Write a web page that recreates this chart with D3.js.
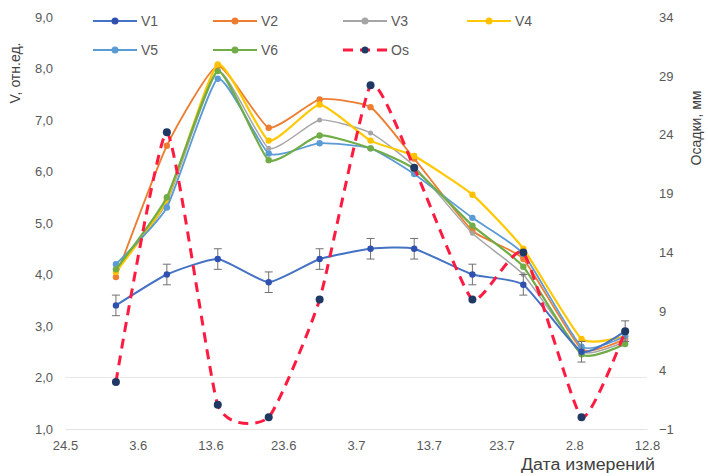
<!DOCTYPE html>
<html>
<head>
<meta charset="utf-8">
<script src="https://cdn.jsdelivr.net/npm/d3@7/dist/d3.min.js"></script>
<style>
  html, body { margin: 0; padding: 0; background: #ffffff; }
  svg { display: block; font-family: "Liberation Sans", Arial, sans-serif; }
</style>
</head>
<body>
<svg id="chart" width="708" height="476"></svg>
<script>
// Measurement dates
const dates = ["2021-05-31", "2021-06-07", "2021-06-14", "2021-06-21", "2021-06-28",
               "2021-07-05", "2021-07-11", "2021-07-19", "2021-07-26", "2021-08-03", "2021-08-09"];

// Relative values of the six series (left axis)
const V1 = [3.4, 4.0, 4.3, 3.85, 4.3, 4.5, 4.5, 4.0, 3.8, 2.5, 2.9];
const V1err = [0.2, 0.2, 0.2, 0.2, 0.2, 0.2, 0.2, 0.2, 0.2, 0.2, 0.2];
const V2 = [3.95, 6.5, 8.05, 6.85, 7.4, 7.25, 6.25, 4.85, 4.3, 2.55, 2.75];
const V3 = [4.1, 5.4, 7.95, 6.45, 7.0, 6.75, 6.1, 4.8, 4.0, 2.5, 2.7];
const V4 = [4.05, 5.45, 8.08, 6.6, 7.3, 6.6, 6.3, 5.55, 4.5, 2.75, 2.8];
const V5 = [4.2, 5.3, 7.8, 6.35, 6.55, 6.45, 5.95, 5.1, 4.4, 2.6, 2.8];
const V6 = [4.1, 5.5, 7.95, 6.22, 6.7, 6.45, 6.05, 4.95, 4.15, 2.45, 2.65];

// Precipitation, mm (right axis)
const Os = [3.0, 24.2, 1.05, 0.0, 10.0, 28.2, 21.2, 10.0, 14.0, 0.0, 7.3];

// Axis ticks
const xTickDates = ["2021-05-24", "2021-06-03", "2021-06-13", "2021-06-23", "2021-07-03",
                    "2021-07-13", "2021-07-23", "2021-08-02", "2021-08-12"];
const xTickLabels = ["24.5", "3.6", "13.6", "23.6", "3.7", "13.7", "23.7", "2.8", "12.8"];
const yLeftTicks = [1, 2, 3, 4, 5, 6, 7, 8, 9];
const yRightTicks = [-1, 4, 9, 14, 19, 24, 29, 34];

const parse = d3.timeParse("%Y-%m-%d");
const svg = d3.select("#chart");

const plot = { left: 65, right: 647, top: 17, bottom: 429 };

const x = d3.scaleTime()
  .domain([parse(xTickDates[0]), parse(xTickDates[xTickDates.length - 1])])
  .range([plot.left, plot.right]);
const yL = d3.scaleLinear().domain([1, 9]).range([plot.bottom, plot.top]);
const yR = d3.scaleLinear().domain([-1, 34]).range([plot.bottom, plot.top]);

const fmtComma = v => d3.format(".1f")(v).replace(".", ",");

// faint horizontal guide at 2,0
svg.append("line")
  .attr("x1", plot.left).attr("x2", plot.right)
  .attr("y1", yL(2)).attr("y2", yL(2))
  .attr("stroke", "#e8e8e8").attr("stroke-width", 1);

// X axis
const xAxis = d3.axisBottom(x)
  .tickValues(xTickDates.map(parse))
  .tickFormat((d, i) => xTickLabels[i])
  .tickSize(0).tickPadding(12);
const gx = svg.append("g").attr("transform", `translate(0,${plot.bottom})`).call(xAxis);
gx.select(".domain").attr("stroke", "#e3e3e3");
gx.selectAll("text").attr("fill", "#595959").style("font-size", "13px");

// Left axis
const gl = svg.append("g").attr("transform", `translate(${plot.left - 10},0)`)
  .call(d3.axisLeft(yL).tickValues(yLeftTicks).tickFormat(fmtComma).tickSize(0).tickPadding(2));
gl.select(".domain").remove();
gl.selectAll("text").attr("fill", "#595959").style("font-size", "13px");

// Right axis
const gr = svg.append("g").attr("transform", `translate(${plot.right + 12},0)`)
  .call(d3.axisRight(yR).tickValues(yRightTicks).tickFormat(d3.format("d")).tickSize(0).tickPadding(0));
gr.select(".domain").remove();
gr.selectAll("text").attr("fill", "#595959").style("font-size", "13px");

// Axis titles
svg.append("text")
  .attr("transform", `translate(20,73) rotate(-90)`)
  .attr("text-anchor", "middle")
  .attr("fill", "#404040").style("font-size", "14px")
  .text("V, отн.ед.");
svg.append("text")
  .attr("transform", `translate(701,128) rotate(-90)`)
  .attr("text-anchor", "middle")
  .attr("fill", "#404040").style("font-size", "14px")
  .text("Осадки, мм");
svg.append("text")
  .attr("x", 588).attr("y", 470)
  .attr("text-anchor", "middle")
  .attr("fill", "#404040").style("font-size", "16px")
  .attr("textLength", 134).attr("lengthAdjust", "spacingAndGlyphs")
  .text("Дата измерений");

const series = [
  { name: "V1", values: V1, color: "#4472C4", marker: "#3050B0", width: 2 },
  { name: "V2", values: V2, color: "#ED7D31", marker: "#ED7D31", width: 1.8 },
  { name: "V3", values: V3, color: "#A5A5A5", marker: "#A5A5A5", width: 1.5 },
  { name: "V4", values: V4, color: "#FFC800", marker: "#FFC000", width: 2.2 },
  { name: "V5", values: V5, color: "#5B9BD5", marker: "#5B9BD5", width: 1.8 },
  { name: "V6", values: V6, color: "#70AD47", marker: "#70AD47", width: 2.2 }
];

const lineL = d3.line()
  .x(d => x(d.date)).y(d => yL(d.v))
  .curve(d3.curveCardinal.tension(0.5));
const lineR = d3.line()
  .x(d => x(d.date)).y(d => yR(d.v))
  .curve(d3.curveCardinal.tension(0.5));

const toPts = vals => vals.map((v, i) => ({ date: parse(dates[i]), v }));

// V2..V6 drawn first, V1 with its error bars on top
const order = [1, 2, 3, 4, 5, 0];
order.forEach(k => {
  const s = series[k];
  const pts = toPts(s.values);
  const g = svg.append("g");
  if (s.name === "V1") {
    const eb = g.selectAll("g.err").data(pts).join("g").attr("class", "err");
    eb.append("line")
      .attr("x1", d => x(d.date)).attr("x2", d => x(d.date))
      .attr("y1", (d, i) => yL(d.v + V1err[i])).attr("y2", (d, i) => yL(d.v - V1err[i]))
      .attr("stroke", "#707070").attr("stroke-width", 1);
    [1, -1].forEach(sg => {
      eb.append("line")
        .attr("x1", d => x(d.date) - 4).attr("x2", d => x(d.date) + 4)
        .attr("y1", (d, i) => yL(d.v + sg * V1err[i])).attr("y2", (d, i) => yL(d.v + sg * V1err[i]))
        .attr("stroke", "#707070").attr("stroke-width", 1);
    });
  }
  g.append("path").datum(pts)
    .attr("d", lineL)
    .attr("fill", "none").attr("stroke", s.color).attr("stroke-width", s.width);
  g.selectAll("circle").data(pts).join("circle")
    .attr("cx", d => x(d.date)).attr("cy", d => yL(d.v))
    .attr("r", s.name === "V3" ? 2.5 : 3.2).attr("fill", s.marker);
});

// Precipitation: dashed red curve with dark markers
const osPts = toPts(Os);
svg.append("path").datum(osPts)
  .attr("d", lineR)
  .attr("fill", "none").attr("stroke", "#FF1A40").attr("stroke-width", 3)
  .attr("stroke-dasharray", "10,7");
svg.append("g").selectAll("circle").data(osPts).join("circle")
  .attr("cx", d => x(d.date)).attr("cy", d => yR(d.v))
  .attr("r", 4).attr("fill", "#1F3864");

// Legend
const legendItems = [
  { name: "V1", color: "#4472C4", marker: "#3050B0", x: 93, y: 21 },
  { name: "V2", color: "#ED7D31", marker: "#ED7D31", x: 213, y: 21 },
  { name: "V3", color: "#A5A5A5", marker: "#A5A5A5", x: 343, y: 21 },
  { name: "V4", color: "#FFC800", marker: "#FFC000", x: 467, y: 21 },
  { name: "V5", color: "#5B9BD5", marker: "#5B9BD5", x: 93, y: 50 },
  { name: "V6", color: "#70AD47", marker: "#70AD47", x: 213, y: 50 },
  { name: "Os", color: "#FF1A40", marker: "#1F3864", x: 343, y: 50, dashed: true }
];
const lg = svg.append("g").selectAll("g").data(legendItems).join("g")
  .attr("transform", d => `translate(${d.x},${d.y})`);
lg.append("line")
  .attr("x1", 0).attr("x2", 44).attr("y1", 0).attr("y2", 0)
  .attr("stroke", d => d.color)
  .attr("stroke-width", d => d.dashed ? 3 : 1.8)
  .attr("stroke-dasharray", d => d.dashed ? "10,7" : null);
lg.append("circle").attr("cx", 22).attr("cy", 0).attr("r", 3.5).attr("fill", d => d.marker);
lg.append("text")
  .attr("x", 48).attr("y", 0).attr("dy", "0.35em")
  .attr("fill", "#595959").style("font-size", "14px")
  .text(d => d.name);
</script>
</body>
</html>
